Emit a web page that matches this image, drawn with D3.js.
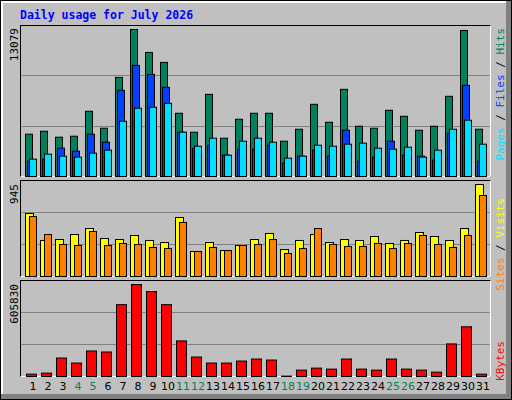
<!DOCTYPE html>
<html><head><meta charset="utf-8">
<script src="https://cdn.jsdelivr.net/npm/d3@7"></script>
<style>body{margin:0;background:#fff}svg{display:block}</style>
</head><body><svg id="c" width="512" height="400"></svg>
<script>
const days = d3.range(1, 32);
const weekends = [4,5,11,12,18,19,25,26];
const hits  = [3762,4028,3496,3585,5803,4295,8820,13079,11038,10151,5626,3940,7311,3407,5093,5626,5626,3141,4206,6424,4827,7755,4472,4295,5892,5359,4117,4472,7134,12990,4206];
const files = [1366,1544,2520,2254,3762,3052,7666,9885,9086,7932,3940,2520,2786,1899,2431,2431,2786,1189,1810,2342,1810,4117,1366,1721,3141,1899,1810,1455,3851,8110,1366];
const pages = [1544,1988,1810,1721,2076,2342,4916,6069,6158,6513,3940,2697,3407,1899,3141,3407,3052,1633,1810,2786,2697,2875,2964,2520,2431,2609,1721,2342,4206,5004,2875];
const visits = [647,370,380,431,493,390,380,421,370,349,606,257,349,267,318,380,442,277,370,431,349,380,370,411,339,370,452,411,370,493,945];
const sites  = [616,431,329,318,462,318,339,329,298,288,555,257,298,267,318,329,380,236,288,493,329,308,308,339,288,339,421,329,298,421,832];
const kbytes = [15477,22110,121605,88440,168036,161403,473154,605830,559383,473154,234366,128238,88440,88440,101706,114972,108339,2500,42009,55275,48642,114972,48642,42009,114972,48642,42009,28743,214467,327228,15477];
const title = "Daily usage for July 2026";

const C = {hits:"#00805C", files:"#0040FF", pages:"#00E0FF", visits:"#FFFF00", sites:"#FF8000", kb:"#FF0000"};
const svg = d3.select("#c");
svg.append("rect").attr("x",0).attr("y",0).attr("width",512).attr("height",400).attr("fill","#000");
svg.append("rect").attr("x",1).attr("y",1).attr("width",510).attr("height",398).attr("fill","#808080");
svg.append("rect").attr("x",1).attr("y",1).attr("width",505).attr("height",393).attr("fill","#fff");
svg.append("rect").attr("x",3).attr("y",3).attr("width",503).attr("height",391).attr("fill","#C0C0C0");

svg.append("text").attr("x",20).attr("y",19).attr("fill","#0000FF")
  .attr("font-family","DejaVu Sans Mono").attr("font-weight","bold").attr("font-size","11.5px").text(title);

const x = d3.scaleBand().domain(days).range([25.5, 490.5]).paddingInner(0).paddingOuter(0);
const step = 15;
const xl = d => 25 + (d-1)*step;

function panel(top, bottom, max){
  svg.append("rect").attr("x",20.5).attr("y",top+0.5).attr("width",470).attr("height",bottom-top)
    .attr("fill","#C0C0C0").attr("stroke","#000");
  svg.append("path").attr("d",`M${490.5},${top+0.5}V${bottom+0.5}H20.5`).attr("stroke","#fff").attr("fill","none");
  const h = bottom-top;
  [1,2].forEach(i=>{
    const gy = Math.round(top + h*i/3)+0.5;
    svg.append("line").attr("x1",21).attr("x2",490).attr("y1",gy).attr("y2",gy).attr("stroke","#808080");
  });
  return d3.scaleLinear().domain([0,max]).range([bottom, top+4]);
}
function bars(vals, y, dx, w, color){
  svg.append("g").selectAll("rect").data(vals).join("rect")
    .attr("x",(v,i)=>xl(days[i])+dx+0.5).attr("y",v=>y(v)+0.5)
    .attr("width",w).attr("height",v=>Math.max(0,y(0)-y(v)))
    .attr("fill",color).attr("stroke","#000");
}
const y1 = panel(25,176,d3.max(hits));
bars(hits,y1,0,7,C.hits);
bars(files,y1,2,7,C.files);
bars(pages,y1,4,7,C.pages);

const y2 = panel(180,276,d3.max(visits));
bars(visits,y2,0,8,C.visits);
bars(sites,y2,4,7,C.sites);

const y3 = panel(280,376,d3.max(kbytes));
bars(kbytes,y3,1,10,C.kb);

function vlabel(xp, yp, parts, anchor){
  const t = svg.append("text").attr("transform",`translate(${xp},${yp}) rotate(-90)`)
    .attr("text-anchor",anchor).attr("font-family","DejaVu Sans Mono").attr("font-size","11px");
  parts.forEach(([s,c])=>t.append("tspan").attr("fill",c).text(s));
}
vlabel(18,28,[[String(d3.max(hits)),"#000"]],"end");
vlabel(18,184,[[String(d3.max(visits)),"#000"]],"end");
vlabel(18,284,[[String(d3.max(kbytes)),"#000"]],"end");
vlabel(504,28,[["Pages",C.pages],[" / ","#000"],["Files",C.files],[" / ","#000"],["Hits",C.hits]],"end");
vlabel(504,198,[["Sites",C.sites],[" / ","#000"],["Visits",C.visits]],"end");
vlabel(504,341,[["KBytes",C.kb]],"end");

const ax = svg.append("g").attr("transform","translate(0,382)")
  .call(d3.axisBottom(x).tickSize(0).tickPadding(0));
ax.select(".domain").remove();
ax.selectAll("text").attr("font-family","DejaVu Sans").attr("font-size","11px")
  .attr("fill",d=>weekends.includes(d)?"#00805C":"#000");
</script></body></html>
